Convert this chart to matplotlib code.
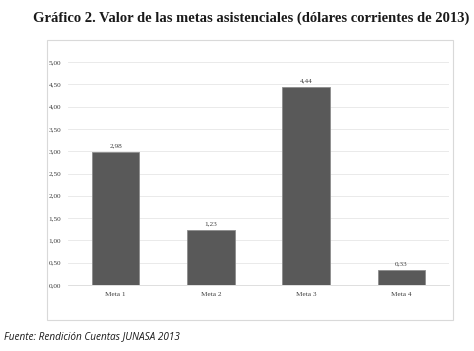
import matplotlib
matplotlib.use("Agg")
import matplotlib.pyplot as plt
from matplotlib.patches import Rectangle

categories = ["Meta 1", "Meta 2", "Meta 3", "Meta 4"]
values = [2.98, 1.23, 4.44, 0.33]
yticks = [0, 0.5, 1.0, 1.5, 2.0, 2.5, 3.0, 3.5, 4.0, 4.5, 5.0]

def fmt(v):
    return f"{v:.2f}".replace(".", ",")

W, H = 474, 351
fig = plt.figure(figsize=(W/100, H/100), dpi=100)
fig.patch.set_facecolor("white")

# chart box
fig.patches.append(Rectangle((47/W, 1-320/H), (453-47)/W, (320-40)/H,
                             transform=fig.transFigure, fill=False,
                             edgecolor="#d9d9d9", linewidth=0.8))

ax = fig.add_axes([68/W, 1-285/H, (449-68)/W, (285-62)/H])
x = range(len(categories))
ax.bar(x, values, width=0.5, color="#595959", edgecolor="#8c8c8c", linewidth=0.6, zorder=3)
for i, v in zip(x, values):
    ax.text(i, v + 0.08, fmt(v), ha="center", va="bottom", fontsize=5.2,
            family="Liberation Serif", color="#404040")
ax.set_xlim(-0.5, 3.5)
ax.set_ylim(0, 5)
ax.set_yticks(yticks)
ax.set_yticklabels([fmt(t) for t in yticks], family="Liberation Serif", fontsize=5.2, color="#404040")
ax.set_xticks(list(x))
ax.set_xticklabels(categories, family="Liberation Serif", fontsize=5.2, color="#404040")
ax.grid(axis="y", color="#e6e6e6", linewidth=0.6, zorder=0)
for s in ["top", "right", "left"]:
    ax.spines[s].set_visible(False)
ax.spines["bottom"].set_color("#d9d9d9")
ax.spines["bottom"].set_linewidth(0.6)
ax.tick_params(axis="both", length=0, pad=5)
ax.tick_params(axis="x", pad=5)

fig.text(251/W, 1-18/H, "Gráfico 2. Valor de las metas asistenciales (dólares corrientes de 2013)",
         ha="center", va="center", fontsize=10.5, fontweight="bold",
         family="Liberation Serif", color="#1a1a1a")
fig.text(4/W, 1-337/H, "Fuente: Rendición Cuentas JUNASA 2013", ha="left", va="center",
         fontsize=7.2, style="italic", family="Open Sans", color="#1a1a1a")

fig.savefig("out.png", dpi=100)
